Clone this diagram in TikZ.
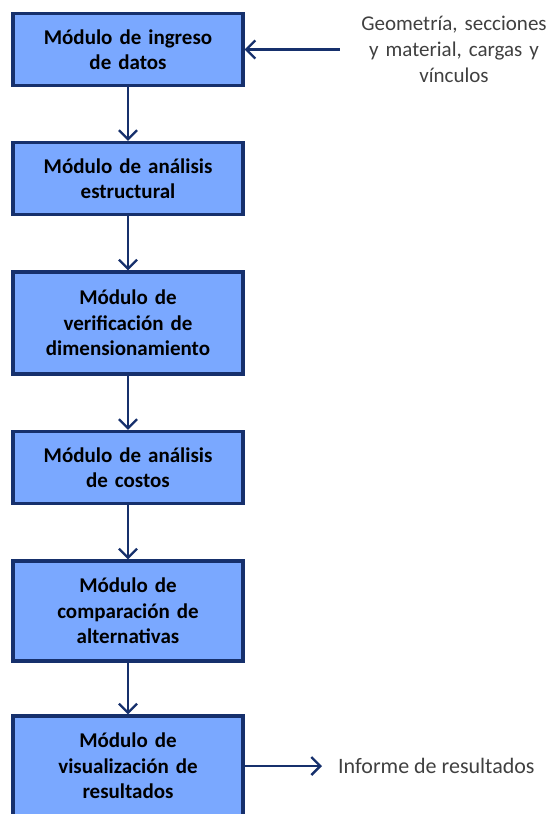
\documentclass[tikz,border=0pt]{standalone}
\usepackage{fontspec}
\setmainfont{Carlito}
\usepackage{tikz}
\usetikzlibrary{arrows.meta}

\definecolor{relleno}{RGB}{122,168,255}
\definecolor{borde}{RGB}{22,48,108}
\definecolor{texto}{RGB}{64,64,64}

\tikzset{
	modulo/.style={draw=borde, line width=3.2pt, fill=relleno, minimum width=230pt,
		minimum height=72pt, text width=220pt, align=center, font=\fontsize{21}{25.5}\selectfont\bfseries},
	flecha/.style={draw=borde, line width=2.4pt, -{Straight Barb[length=9pt,width=18pt,line width=2.4pt]}},
	nota/.style={text=texto, font=\fontsize{21}{26}\selectfont}
}

\begin{document}
\begin{tikzpicture}[x=1pt,y=-1pt]
	\useasboundingbox (0,0) rectangle (555,814);
	\clip (0,0) rectangle (555,814);
	
	\node[modulo] (ingreso) at (128,49.5) {Módulo de ingreso\\de datos};
	\node[modulo] (estructural) at (128,178.5) {Módulo de análisis\\estructural};
	\node[modulo, minimum height=102pt] (verificacion) at (128,323) {Módulo de\\verificación de\\dimensionamiento};
	\node[modulo] (costos) at (128,467.5) {Módulo de análisis\\de costos};
	\node[modulo, minimum height=100pt] (comparacion) at (128,611) {Módulo de\\comparación de\\alternativas};
	\node[modulo, minimum height=100pt] (visual) at (128,766) {Módulo de\\visualización de\\resultados};
	
	\draw[flecha] (ingreso) -- (estructural);
	\draw[flecha] (estructural) -- (verificacion);
	\draw[flecha] (verificacion) -- (costos);
	\draw[flecha] (costos) -- (comparacion);
	\draw[flecha] (comparacion) -- (visual);
	
	\node[nota, text width=200pt, align=center, inner sep=0pt] (entrada) at (454,49.5) {Geometría, secciones\\y material, cargas y\\vínculos};
	\draw[flecha, shorten <=14pt] (entrada.west) -- (ingreso.east);
	
	\node[nota, font=\fontsize{22}{26}\selectfont, anchor=west, inner sep=0pt] (informe) at (338,766) {Informe de resultados};
	\draw[flecha, shorten >=16pt] (visual.east) -- (informe.west);
\end{tikzpicture}
\end{document}
